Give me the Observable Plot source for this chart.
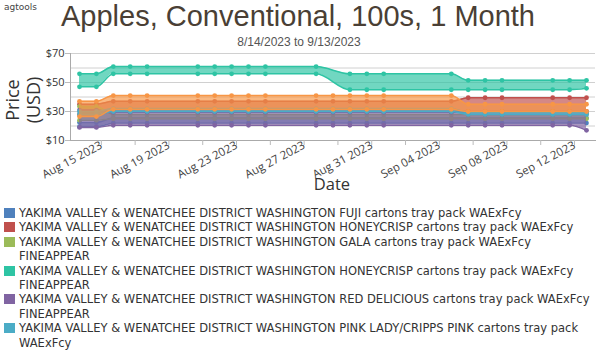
<!DOCTYPE html>
<html><head><meta charset="utf-8">
<script src="https://cdn.jsdelivr.net/npm/d3@7"></script>
<script src="https://cdn.jsdelivr.net/npm/@observablehq/plot@0.6"></script>
<style>
body{margin:0;width:600px;height:360px;overflow:hidden;position:relative;background:#fff;}
#brand{position:absolute;left:4px;top:2px;font:9px "DejaVu Sans",sans-serif;color:#444;}
#title{position:absolute;left:0;top:-1px;width:596px;text-align:center;font:29px "Liberation Sans",sans-serif;color:#4a3f35;line-height:34px;}
#subtitle{position:absolute;left:0;top:34px;width:598px;text-align:center;font:12px "Liberation Sans",sans-serif;color:#555;line-height:16px;}
#ylabel{position:absolute;left:23px;top:100px;transform:translate(-50%,-50%) rotate(-90deg);font:18px "Open Sans",sans-serif;color:#333;line-height:21px;text-align:center;white-space:nowrap;}
#chart{position:absolute;left:0;top:45px;}
#xlabel{position:absolute;left:282px;top:173px;width:100px;text-align:center;font:16.5px "Open Sans",sans-serif;color:#333;line-height:22px;}
#legend{position:absolute;left:4px;top:206px;width:592px;height:148px;overflow:hidden;font:11.5px "DejaVu Sans",sans-serif;color:#333;line-height:14.4px;}
.item{display:flex;align-items:flex-start;}
.sw{width:11px;height:10px;flex:none;margin-top:2px;margin-right:4px;}
.lab{width:576px;}
</style></head><body>
<div id="brand">agtools</div>
<div id="title">Apples, Conventional, 100s, 1 Month</div>
<div id="subtitle">8/14/2023 to 9/13/2023</div>
<div id="ylabel">Price<br>(USD)</div>
<div id="chart"></div>
<div id="xlabel">Date</div>
<div id="legend"></div>
<script>
const dates = ["2023-08-14","2023-08-15","2023-08-16","2023-08-17","2023-08-18","2023-08-21","2023-08-22","2023-08-23","2023-08-24","2023-08-25","2023-08-28","2023-08-29","2023-08-30","2023-08-31","2023-09-01","2023-09-05","2023-09-06","2023-09-07","2023-09-08","2023-09-11","2023-09-12","2023-09-13"];
// axis ticks fall at local (Pacific) midnight
const labelTicks = ["2023-08-15T07:00Z","2023-08-19T07:00Z","2023-08-23T07:00Z","2023-08-27T07:00Z","2023-08-31T07:00Z","2023-09-04T07:00Z","2023-09-08T07:00Z","2023-09-12T07:00Z"];
const minorTicks = ["2023-08-15T07:00Z","2023-08-17T07:00Z","2023-08-19T07:00Z","2023-08-21T07:00Z","2023-08-23T07:00Z","2023-08-25T07:00Z","2023-08-27T07:00Z","2023-08-29T07:00Z","2023-08-31T07:00Z","2023-09-02T07:00Z","2023-09-04T07:00Z","2023-09-06T07:00Z","2023-09-08T07:00Z","2023-09-10T07:00Z","2023-09-12T07:00Z"];
const yTicks = [10, 30, 50, 70];
const yGrid = [10, 20, 30, 40, 50, 60, 70];

const seriesNames = [
  "YAKIMA VALLEY & WENATCHEE DISTRICT WASHINGTON FUJI cartons tray pack WAExFcy",
  "YAKIMA VALLEY & WENATCHEE DISTRICT WASHINGTON HONEYCRISP cartons tray pack WAExFcy",
  "YAKIMA VALLEY & WENATCHEE DISTRICT WASHINGTON GALA cartons tray pack WAExFcy FINEAPPEAR",
  "YAKIMA VALLEY & WENATCHEE DISTRICT WASHINGTON HONEYCRISP cartons tray pack WAExFcy FINEAPPEAR",
  "YAKIMA VALLEY & WENATCHEE DISTRICT WASHINGTON RED DELICIOUS cartons tray pack WAExFcy FINEAPPEAR",
  "YAKIMA VALLEY & WENATCHEE DISTRICT WASHINGTON PINK LADY/CRIPPS PINK cartons tray pack WAExFcy",
  null
];
const seriesColors = ["#4f81bd", "#c0504d", "#9bbb59", "#2ec4a4", "#8064a2", "#4bacc6", "#f79646"];

const fujiLow   = [19.5,19.5,22,22,22,22,22,22,22,22,22,22,22,22,22,22,22,22,22,22,22,22];
const fujiHigh  = [22.5,22.5,25.5,25.5,25.5,25.5,25.5,25.5,25.5,25.5,25.5,25.5,25.5,25.5,25.5,25.5,25.5,25.5,25.5,25.5,25.5,25.5];
const honeyLow  = [28,28,30,30,30,30,30,30,30,30,30,30,30,30,30,30,30,30,30,30,30,30];
const honeyHigh = [35,35,37,37,37,37,37,37,37,37,37,37,37,37,37,37,39.5,39.5,39.5,39.5,39.5,39.5];
const galaLow   = [24,24,25,25,25,25,25,25,25,25,25,25,25,25,25,25,25,25,25,25,25,25];
const galaHigh  = [33.5,33.5,28,28,28,28,28,28,28,28,28,28,28,28,28,28,28,28,28,28,28,28];
const honeyFaLow  = [47,47,56,56,56,56,56,56,56,56,56,null,45,45,45,45,45,45,45,45,45,46];
const honeyFaHigh = [56,56,61,61,61,61,61,61,61,61,61,null,56,56,56,56,51.5,51.5,51.5,51.5,51.5,51.5];
const redDelLow  = [19,19,20.5,20.5,20.5,20.5,20.5,20.5,20.5,20.5,20.5,20.5,20.5,20.5,20.5,20.5,20.5,20.5,20.5,20.5,20.5,17];
const redDelHigh = [31,31,29.5,29.5,29.5,29.5,29.5,29.5,29.5,29.5,29.5,29.5,29.5,29.5,29.5,29.5,29.5,29.5,29.5,29.5,29.5,29.5];
const pinkLow  = [28,28,30,30,30,30,30,30,30,30,30,30,30,30,30,30,28,28,28,28,28,28];
const pinkHigh = [30,30,32,32,32,32,32,32,32,32,32,32,32,32,32,32,29.5,29.5,29.5,29.5,29.5,29.5];
const otherLow  = [26.5,26.5,31.5,31.5,31.5,31.5,31.5,31.5,31.5,31.5,31.5,31.5,31.5,31.5,31.5,31.5,30,30,30,30,30,30];
const otherHigh = [37,37,41,41,41,41,41,41,41,41,41,41,41,41,41,41,35,35,35,35,35,35];

const lows  = [fujiLow, honeyLow, galaLow, honeyFaLow, redDelLow, pinkLow, otherLow];
const highs = [fujiHigh, honeyHigh, galaHigh, honeyFaHigh, redDelHigh, pinkHigh, otherHigh];

const parse = d3.utcParse("%Y-%m-%d");
const series = lows.map((lo, i) => ({
  color: seriesColors[i],
  rows: dates.map((d, j) => ({date: parse(d), low: lo[j], high: highs[i][j]})).filter(r => r.low != null && r.high != null)
}));

const curve = "monotone-x";
const marks = [Plot.gridY(yGrid, {stroke: "#d0d0d0", strokeOpacity: 1})];
for (const s of series) {
  marks.push(
    Plot.areaY(s.rows, {x: "date", y1: "low", y2: "high", fill: s.color, fillOpacity: 0.68, curve}),
    Plot.lineY(s.rows, {x: "date", y: "high", stroke: s.color, strokeWidth: 1.5, curve}),
    Plot.lineY(s.rows, {x: "date", y: "low", stroke: s.color, strokeWidth: 1.5, curve}),
    Plot.dot(s.rows, {x: "date", y: "high", r: 2.4, fill: s.color}),
    Plot.dot(s.rows, {x: "date", y: "low", r: 2.4, fill: s.color})
  );
}
marks.push(
  Plot.frame({anchor: "left", stroke: "#aaa"}),
  Plot.frame({anchor: "bottom", stroke: "#aaa"}),
  Plot.axisY({ticks: yTicks, tickFormat: d => "$" + d, tickSize: 5, tickPadding: 1, stroke: "#bbb", label: null, fontSize: 11}),
  Plot.axisX({ticks: minorTicks.map(d => new Date(d)), tickFormat: () => "", tickSize: 5, stroke: "#bbb", label: null}),
  Plot.axisX({ticks: labelTicks.map(d => new Date(d)), tickFormat: d3.utcFormat("%b %d %Y"), tickRotate: -28, tickSize: 0, tickPadding: 4, label: null, fontSize: 11.5, fill: "#444"})
);

const chart = Plot.plot({
  width: 600, height: 150,
  marginTop: 8, marginBottom: 55, marginLeft: 70, marginRight: 5,
  style: {fontFamily: "'Open Sans', sans-serif", color: "#333", background: "transparent", overflow: "visible"},
  x: {type: "utc", domain: [parse(dates[0]), parse(dates[dates.length - 1])], insetLeft: 9, insetRight: 9},
  y: {domain: [10, 70]},
  marks
});
document.getElementById("chart").appendChild(chart);

const legend = d3.select("#legend");
seriesNames.forEach((name, i) => {
  if (!name) return;
  const it = legend.append("div").attr("class", "item");
  it.append("div").attr("class", "sw").style("background", seriesColors[i]);
  it.append("div").attr("class", "lab").text(name);
});
</script>
</body></html>
